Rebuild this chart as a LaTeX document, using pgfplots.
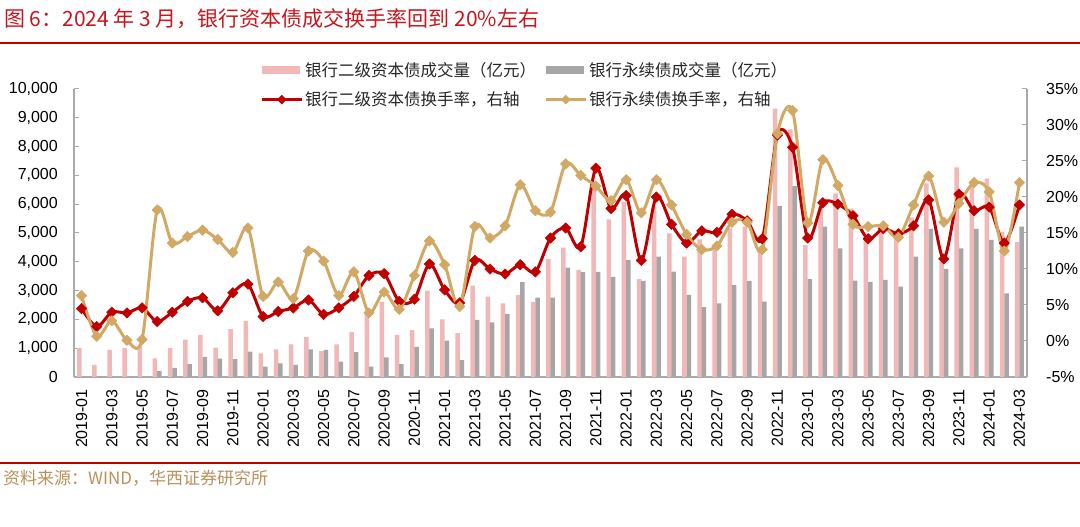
\documentclass[border=0pt]{standalone}
\usepackage{fontspec}
\usepackage{pgfplots}
\usepackage{pgfplotstable}
\pgfplotsset{compat=1.18}
\setmainfont{Liberation Sans}
\newfontfamily\cjk{Noto Sans CJK SC}

\definecolor{pinkbar}{RGB}{242,184,184}
\definecolor{graybar}{RGB}{166,166,166}
\definecolor{redline}{RGB}{192,0,0}
\definecolor{goldline}{RGB}{210,168,101}
\definecolor{axisgray}{RGB}{170,170,170}
\definecolor{titlered}{RGB}{200,22,29}
\definecolor{srcgold}{RGB}{184,146,90}

% month index, volumes (100m yuan), turnover rates (%)
\pgfplotstableread{
x pink gray red gold
0 1000 0 4.5 6.3
1 420 0 2.0 0.65
2 940 0 4.0 2.8
3 1000 0 3.9 0.1
4 1080 0 4.6 0.2
5 650 200 2.7 18.2
6 1000 320 4.0 13.6
7 1300 450 5.5 14.5
8 1460 700 6.0 15.4
9 1020 640 4.2 14.1
10 1660 620 6.7 12.3
11 1940 880 7.9 15.7
12 820 360 3.4 6.2
13 960 470 4.1 8.2
14 1130 420 4.6 5.9
15 1390 960 5.7 12.5
16 900 940 3.7 11.1
17 1130 530 4.6 6.3
18 1560 860 6.2 9.6
19 2300 360 9.1 3.9
20 2610 680 9.35 6.8
21 1460 450 5.5 4.4
22 1630 1050 5.8 9.1
23 3000 1690 10.7 13.9
24 2000 1260 7.1 10.6
25 1520 590 5.3 4.8
26 3170 1980 11.2 15.9
27 2790 1900 10.0 14.3
28 2560 2190 9.3 16.0
29 2850 3290 10.6 21.7
30 2610 2760 9.6 18.1
31 4090 2760 14.3 17.9
32 4490 3800 15.7 24.6
33 3720 3640 13.1 23.0
34 6600 3650 24.0 21.5
35 5470 3480 18.4 19.5
36 6090 4060 20.2 22.4
37 3400 3340 11.2 17.8
38 5900 4180 20.0 22.4
39 4990 3660 16.2 18.9
40 4180 2850 13.6 14.8
41 4780 2430 15.3 12.7
42 4410 2560 15.1 13.2
43 5160 3190 17.6 16.5
44 5220 3340 16.7 16.5
45 4520 2620 14.2 12.7
46 9320 5940 28.6 28.8
47 8600 6630 26.9 32.0
48 4580 3400 14.3 16.4
49 5910 5220 19.2 25.2
50 6380 4470 19.0 21.6
51 5850 3350 17.4 16.2
52 4870 3300 14.2 15.9
53 5280 3370 15.6 16.0
54 4870 3140 14.9 14.4
55 5540 4180 16.0 18.9
56 6720 5140 19.6 22.9
57 4000 3750 11.4 16.5
58 7280 4470 20.4 19.1
59 6610 5140 18.1 22.0
60 6890 4760 18.6 20.7
61 5050 2900 13.6 12.5
62 4680 5220 18.9 22.0
}\tbl

\pgfplotsset{
  base/.style={
    at={(74pt,150pt)}, anchor=south west,
    scale only axis, width=953pt, height=288pt,
    xmin=-0.5, xmax=62.5,
    axis line style={draw=axisgray, line width=1.2pt},
    tick style={draw=axisgray, line width=1pt},
    major tick length=5pt,
    tick label style={font=\fontsize{16}{16}\selectfont},
    /pgf/number format/assume math mode=true,
  },
  rate/.style={smooth, tension=0.5, line width=3pt, line join=round,
    mark=square*, mark size=3.7pt},
}

\begin{document}
\begin{tikzpicture}
\useasboundingbox (0,0) rectangle (1080pt,527pt);
\fill[white] (0,0) rectangle (1080pt,527pt);

\node[anchor=west, inner sep=0pt, text=titlered, font=\cjk\fontsize{21}{21}\selectfont]
  at (4pt,508pt) {图 6：2024 年 3 月，银行资本债成交换手率回到 20\%左右};
\draw[redline, line width=2pt] (0,484pt) -- (1080pt,484pt);
\draw[redline, line width=2.5pt] (0,64pt) -- (1080pt,64pt);
\node[anchor=west, inner sep=0pt, text=srcgold, font=\cjk\fontsize{17}{17}\selectfont]
  at (3pt,49pt) {资料来源：WIND，华西证券研究所};

\begin{axis}[
  base,
  ymin=0, ymax=10000,
  axis x line*=bottom, axis y line*=left,
  ytick={0,1000,...,10000},
  scaled y ticks=false,
  /pgf/number format/1000 sep={,},
  y tick label style={anchor=east, inner sep=0pt},
  yticklabel shift=16pt,
  xtick={0,2,...,62},
  xticklabels={2019-01,2019-03,2019-05,2019-07,2019-09,2019-11,
    2020-01,2020-03,2020-05,2020-07,2020-09,2020-11,
    2021-01,2021-03,2021-05,2021-07,2021-09,2021-11,
    2022-01,2022-03,2022-05,2022-07,2022-09,2022-11,
    2023-01,2023-03,2023-05,2023-07,2023-09,2023-11,
    2024-01,2024-03},
  x tick label style={rotate=90, anchor=east, inner sep=0pt},
  xticklabel shift=12pt,
  xtick style={draw=none},
  legend columns=2,
  legend style={at={(0.1952,1.1007)}, anchor=north west, draw=none, fill=none,
    inner sep=0pt, row sep=10pt, text=black!85,
    font=\cjk\fontsize{16.5}{18}\selectfont,
    /tikz/every even column/.append style={column sep=6pt}},
  legend cell align=left,
]
\addplot[ybar, bar width=4.5pt, bar shift=-2.2pt, fill=pinkbar, draw=none,
  legend image code/.code={\fill[pinkbar] (0pt,-4pt) rectangle (38pt,4pt);}]
  table[x=x, y=pink]{\tbl};
\addlegendentry{银行二级资本债成交量（亿元）}
\addplot[ybar, bar width=4.5pt, bar shift=2.2pt, fill=graybar, draw=none,
  legend image code/.code={\fill[graybar] (0pt,-4pt) rectangle (38pt,4pt);}]
  table[x=x, y=gray]{\tbl};
\addlegendentry{银行永续债成交量（亿元）}
\addlegendimage{legend image code/.code={
  \draw[redline, line width=3pt] (0pt,0pt) -- (40pt,0pt);
  \fill[redline] (20pt,4.5pt) -- (24.5pt,0pt) -- (20pt,-4.5pt) -- (15.5pt,0pt) -- cycle;}}
\addlegendentry{银行二级资本债换手率，右轴}
\addlegendimage{legend image code/.code={
  \draw[goldline, line width=3pt] (0pt,0pt) -- (40pt,0pt);
  \fill[goldline] (20pt,4.5pt) -- (24.5pt,0pt) -- (20pt,-4.5pt) -- (15.5pt,0pt) -- cycle;}}
\addlegendentry{银行永续债换手率，右轴}
\end{axis}

\begin{axis}[
  base,
  ymin=-5, ymax=35,
  axis y line*=right, axis x line=none,
  ytick={-5,0,...,35},
  yticklabel={\pgfmathprintnumber{\tick}\%},
  y tick label style={anchor=west, inner sep=0pt},
  yticklabel shift=19pt,
]
\addplot[rate, redline, mark options={rotate=45, fill=redline, draw=redline, line width=0.5pt}]
  table[x=x, y=red]{\tbl};
\addplot[rate, goldline, mark options={rotate=45, fill=goldline, draw=goldline, line width=0.5pt}]
  table[x=x, y=gold]{\tbl};
\end{axis}
\end{tikzpicture}
\end{document}
